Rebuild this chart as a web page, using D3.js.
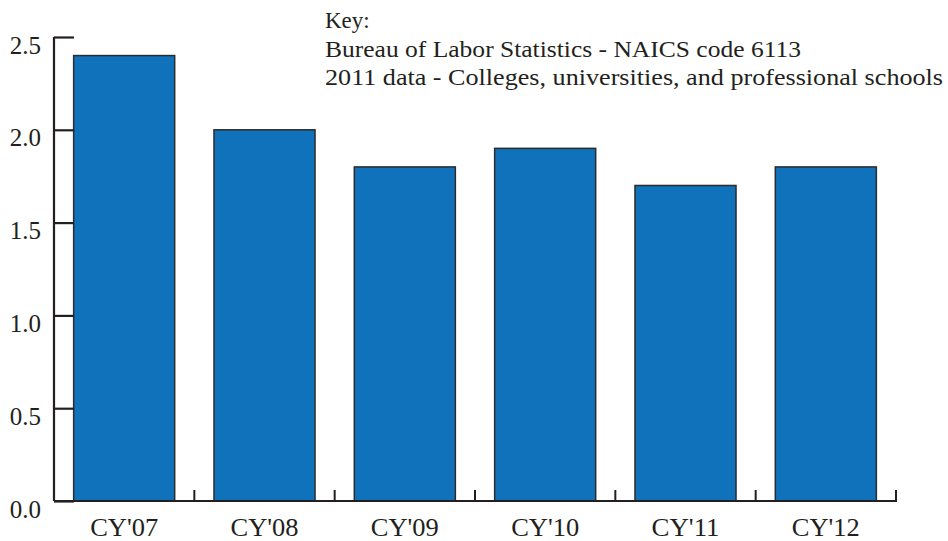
<!DOCTYPE html>
<html><head><meta charset="utf-8">
<script src="https://cdn.jsdelivr.net/npm/d3@7"></script>
<style>body{margin:0;background:#fff}svg{display:block}text{font-family:"Liberation Serif","DejaVu Serif",serif;fill:#231f20}</style>
</head><body>
<script>
const categories = ["CY'07","CY'08","CY'09","CY'10","CY'11","CY'12"];
const values = [2.4, 2.0, 1.8, 1.9, 1.7, 1.8];
const yTicks = [0, 0.5, 1.0, 1.5, 2.0, 2.5];
const keyLines = ["Key:", "Bureau of Labor Statistics - NAICS code 6113", "2011 data - Colleges, universities, and professional schools"];

const W = 948, H = 541;
const svg = d3.select("body").append("svg").attr("width", W).attr("height", H);
const x = d3.scaleBand().domain(categories).range([54, 896]).paddingInner(0.28).paddingOuter(0.14);
const y = d3.scaleLinear().domain([0, 2.5]).range([501, 37]);

svg.selectAll("rect.bar").data(values).join("rect").attr("class","bar")
  .attr("x", (d,i)=>x(categories[i])).attr("width", x.bandwidth())
  .attr("y", d=>y(d)).attr("height", d=>y(0)-y(d))
  .attr("fill", "#1072ba").attr("stroke", "#2b2b2b").attr("stroke-width", 1.5);

// y axis
const ya = svg.append("g").attr("transform","translate(54,0)")
  .call(d3.axisRight(y).tickValues(yTicks).tickSize(20).tickFormat(d3.format(".1f")));
ya.select(".domain").attr("stroke","#231f20").attr("stroke-width",2.2).attr("d","M0,37V501");
ya.selectAll(".tick line").attr("stroke","#231f20").attr("stroke-width",2.2);
ya.selectAll(".tick text").attr("x",-13).attr("y",16).attr("dy",null).attr("text-anchor","end")
  .attr("font-size",25).attr("font-family",null).attr("fill","#231f20");

// x axis
const step = x.step();
svg.append("line").attr("x1",54).attr("x2",897).attr("y1",501).attr("y2",501).attr("stroke","#231f20").attr("stroke-width",2.2);
svg.selectAll("line.xt").data(categories).join("line").attr("class","xt")
  .attr("x1",(c,i)=>54 + step*(i+1)).attr("x2",(c,i)=>54 + step*(i+1))
  .attr("y1",490).attr("y2",502).attr("stroke","#231f20").attr("stroke-width",2);
svg.selectAll("text.xl").data(categories).join("text").attr("class","xl")
  .attr("x", c=>x(c)+x.bandwidth()/2).attr("y", 536).attr("text-anchor","middle")
  .attr("font-size",25).attr("textLength",68).attr("lengthAdjust","spacingAndGlyphs").text(c=>c);

// key
const keyLen = [null, 476, 618];
svg.selectAll("text.key").data(keyLines).join("text").attr("class","key")
  .attr("x",325).attr("y",(d,i)=>28 + i*28.5).attr("font-size",23).text(d=>d)
  .each(function(d,i){ if(keyLen[i]){ this.setAttribute("textLength", keyLen[i]); this.setAttribute("lengthAdjust","spacingAndGlyphs"); } });
</script>
</body></html>
